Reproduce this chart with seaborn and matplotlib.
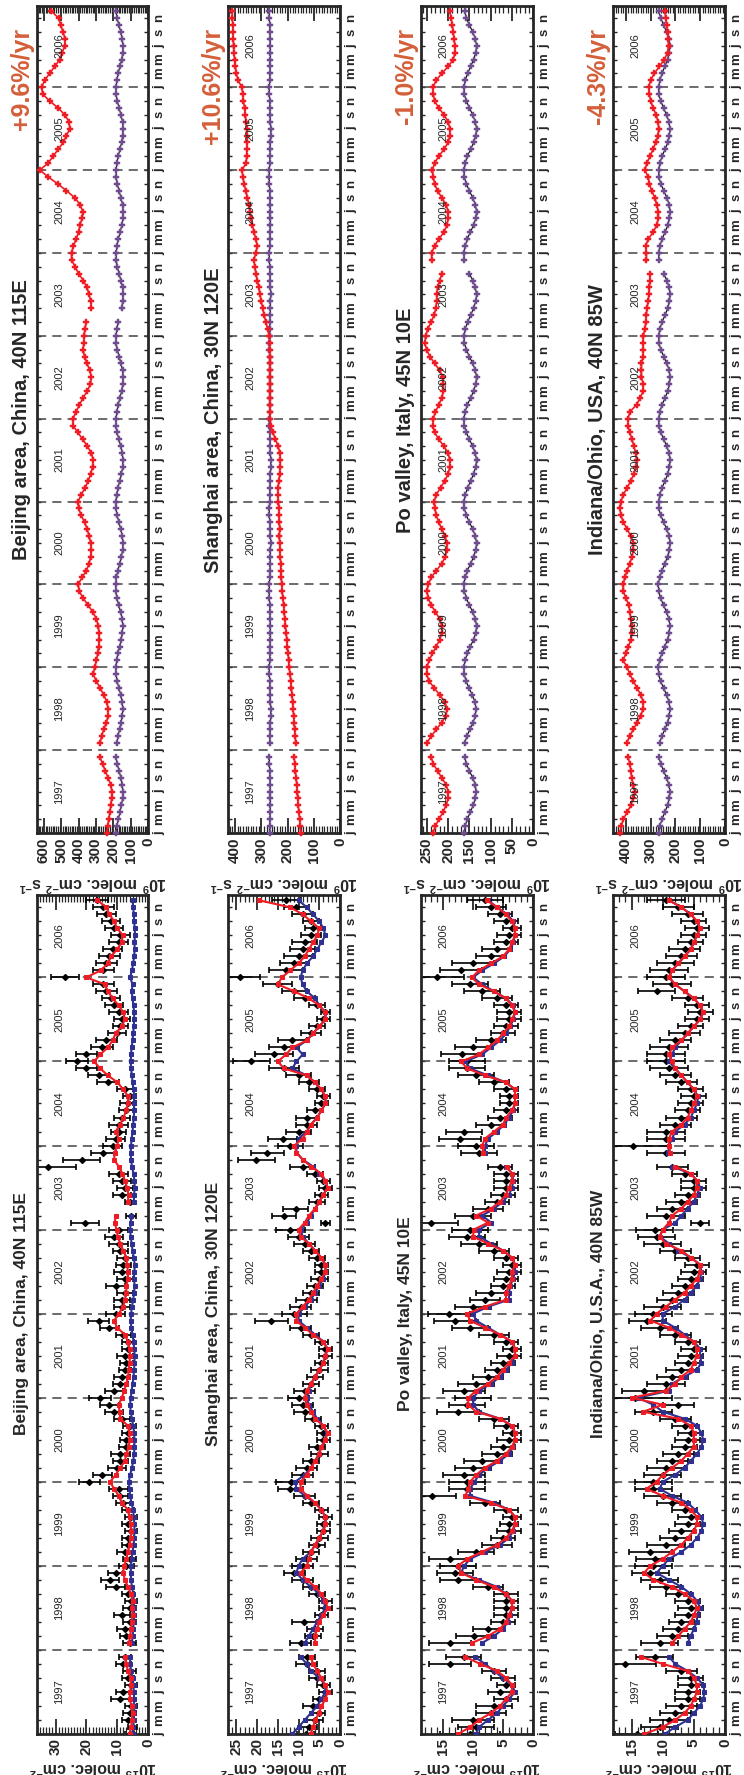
import numpy as np
import pandas as pd
import matplotlib
matplotlib.use('Agg')
import matplotlib.pyplot as plt
import matplotlib.transforms as mtransforms
from matplotlib.ticker import MultipleLocator, FuncFormatter
import seaborn as sns

nan = np.nan

months = pd.date_range('1997-01-01', periods=120, freq='MS')
t = np.asarray(months.year + (months.month - 1) / 12.0, dtype=float)

# ---------------- column densities (10^15 molec cm-2) ----------------
bj_obs = [6.0, 5.0, 6.5, 6.0, 5.5, 9.0, 8.0, 5.5, 6.5, 6.0, 8.0, 7.5,
          nan, 6.0, 7.0, 7.5, 6.0, 8.5, 6.0, 5.5, 6.5, 10.5, 12.3, 10.5,
          7.0, 6.0, 7.5, 6.5, 6.5, 5.5, 6.5, 5.5, 6.5, 8.0, 9.0, 9.5,
          19.0, 14.8, 10.0, 9.0, 9.0, 7.0, 7.0, 6.5, 6.0, 8.5, 11.0, 12.5,
          15.5, 11.0, 9.0, 8.5, 7.5, 7.0, 7.5, 6.5, 6.5, 8.0, 12.5, 16.0,
          10.5, 8.5, 8.5, 7.5, 10.5, 7.5, 8.5, 8.0, 7.5, 9.0, 9.5, 11.0,
          9.5, 20.5, 5.5, nan, 6.0, 8.5, 7.5, 8.5, 9.5, 32.5, 21.5, 14.5,
          11.5, 10.5, 9.5, 9.5, 8.5, 7.0, 6.5, 6.0, 7.5, 13.0, 16.0, 20.0,
          23.0, 20.0, 15.0, 13.5, 10.0, 9.0, 8.5, 9.5, 11.0, 12.0, 13.5, 14.5,
          27.0, 14.5, 13.5, 12.5, 11.5, 9.5, 9.0, 11.0, 12.0, 13.5, 14.5, 16.5]
bj_err = [1.5, 1.5, 2.0, 2.0, 2.0, 3.0, 2.5, 2.0, 2.0, 2.0, 2.5, 2.0,
          nan, 2.0, 2.0, 2.5, 2.0, 2.5, 2.0, 2.0, 2.0, 3.0, 3.0, 2.5,
          2.5, 2.0, 2.5, 2.0, 2.0, 2.0, 2.0, 2.0, 2.0, 2.5, 2.5, 3.0,
          3.5, 3.0, 3.0, 2.5, 3.0, 2.5, 2.0, 2.0, 2.0, 2.5, 3.0, 3.0,
          3.5, 3.0, 2.5, 2.5, 2.0, 2.0, 2.5, 2.0, 2.0, 2.5, 3.0, 3.5,
          3.0, 2.5, 2.5, 2.5, 3.0, 2.5, 2.5, 2.5, 2.5, 2.5, 3.0, 3.0,
          3.0, 4.5, 1.5, nan, 1.5, 3.0, 2.5, 3.0, 3.0, 9.0, 6.0, 4.0,
          3.0, 3.0, 2.5, 3.0, 2.5, 2.5, 2.5, 2.0, 2.5, 3.5, 3.5, 3.5,
          3.5, 3.5, 3.5, 3.5, 3.0, 2.5, 2.5, 3.0, 3.0, 3.0, 3.5, 3.5,
          4.5, 3.5, 3.5, 3.5, 3.0, 3.0, 3.0, 3.0, 3.0, 3.0, 3.5, 3.5]
bj_red = [6.0, 5.5, 5.2, 5.0, 5.3, 6.0, 5.8, 5.5, 5.6, 6.5, 7.0, 7.3,
          nan, 6.2, 5.8, 5.5, 5.3, 5.0, 5.2, 5.0, 5.5, 6.5, 7.5, 8.0,
          7.8, 7.0, 6.5, 6.0, 5.5, 5.5, 5.6, 6.0, 6.5, 8.5, 9.5, 11.0,
          12.3, 10.5, 9.0, 7.5, 7.0, 6.2, 6.0, 6.0, 6.5, 9.0, 9.2, 9.5,
          8.5, 7.7, 7.0, 6.5, 6.2, 6.0, 5.8, 6.0, 6.5, 7.5, 10.0, 11.0,
          9.5, 8.0, 7.5, 7.0, 7.0, 6.5, 6.5, 6.8, 7.0, 8.0, 9.0, 9.8,
          10.2, 10.8, 10.4, nan, 6.5, 6.3, 6.8, 7.5, 8.3, 9.5, 11.0, 10.8,
          10.0, 9.5, 10.5, 9.0, 8.0, 7.0, 6.5, 6.5, 8.0, 9.9, 13.0, 15.5,
          17.5, 15.5, 13.0, 11.5, 10.5, 8.5, 7.5, 8.0, 9.5, 11.5, 13.0, 14.0,
          20.0, 15.3, 13.0, 12.0, 10.0, 8.5, 8.2, 10.0, 11.0, 12.5, 13.5, 16.4]
bj_blue = [5.0, 4.8, 4.6, 4.5, 4.5, 4.5, 4.6, 4.7, 5.0, 5.5, 5.8, 5.8,
           nan, 5.2, 5.0, 4.8, 4.6, 4.5, 4.5, 4.6, 4.8, 5.2, 5.5, 5.6,
           5.5, 5.3, 5.0, 4.7, 4.5, 4.4, 4.4, 4.6, 4.8, 5.4, 5.8, 6.0,
           6.2, 5.8, 5.2, 4.8, 4.5, 4.4, 4.4, 4.5, 4.8, 5.2, 5.6, 5.8,
           5.6, 5.3, 5.0, 4.7, 4.5, 4.4, 4.3, 4.5, 4.7, 5.0, 5.4, 5.6,
           5.5, 5.2, 4.8, 4.5, 4.3, 4.6, 4.4, 4.3, 4.6, 5.0, 5.3, 5.6,
           5.8, 5.6, 5.4, nan, 4.6, 4.5, 4.3, 4.4, 4.7, 5.2, 5.5, 5.6,
           5.5, 5.3, 5.0, 4.8, 4.6, 4.5, 4.5, 4.5, 4.7, 5.0, 5.2, 5.5,
           5.6, 5.5, 5.3, 5.0, 4.8, 4.6, 4.5, 4.5, 4.7, 5.0, 5.3, 5.0,
           5.8, 5.2, 4.8, 4.5, 4.3, 4.4, 4.2, 4.3, 4.5, 4.6, 4.8, 5.0]

sh_obs = [8.3, 7.5, 6.0, 5.0, 6.5, 5.0, 3.5, 4.0, 5.5, 5.5, 8.0, 8.0,
          nan, 9.5, 6.5, 6.0, 8.6, 4.5, 3.5, 3.5, 5.5, 7.0, 9.0, 11.0,
          9.0, 8.0, 7.0, 5.5, 5.0, 4.0, 4.0, 3.5, 4.5, 7.0, 8.5, 12.0,
          11.9, 9.0, 8.0, 7.0, 5.0, 5.5, 4.0, 4.0, 4.5, 6.5, 8.5, 9.0,
          10.0, 8.5, 7.0, 6.0, 5.0, 4.5, 3.5, 3.5, 4.5, 7.0, 9.5, 16.6,
          11.0, 9.5, 8.0, 7.0, 6.0, 5.0, 4.5, 4.5, 5.5, 7.0, 8.5, 10.0,
          12.0, 3.5, 13.5, 10.7, 5.5, 4.5, 3.5, 4.0, 6.0, 9.0, 20.2, 17.5,
          12.0, 13.8, 10.0, 8.0, 8.0, 6.0, 4.5, 4.0, 5.5, 7.5, 10.0, 13.5,
          21.4, 15.9, 13.5, 11.5, 7.0, 5.5, 4.0, 3.5, 5.5, 8.5, 11.0, 15.0,
          24.2, 13.0, 11.0, 10.0, 9.0, 8.5, 7.0, 6.5, 7.0, 9.0, 10.5, 13.0]
sh_err = [2.0, 2.0, 2.0, 1.5, 2.5, 1.5, 1.5, 1.5, 2.0, 2.0, 2.5, 2.0,
          nan, 2.5, 2.0, 2.0, 3.0, 1.5, 1.5, 1.5, 2.0, 2.0, 2.5, 2.5,
          2.5, 2.5, 2.0, 2.0, 2.0, 1.5, 1.5, 1.5, 1.5, 2.0, 2.5, 3.0,
          3.5, 2.5, 2.5, 2.0, 2.0, 2.0, 1.5, 1.5, 1.5, 2.0, 2.5, 2.5,
          2.5, 2.5, 2.0, 2.0, 2.0, 1.5, 1.5, 1.5, 1.5, 2.0, 2.5, 4.0,
          3.0, 2.5, 2.5, 2.0, 2.0, 2.0, 1.5, 1.5, 2.0, 2.0, 2.5, 2.5,
          3.5, 1.0, 3.0, 3.0, 2.0, 1.5, 1.5, 1.5, 2.0, 3.0, 4.5, 4.0,
          3.0, 3.5, 3.0, 2.5, 2.5, 2.0, 1.5, 1.5, 2.0, 2.5, 3.0, 3.5,
          4.5, 4.5, 3.5, 3.5, 2.5, 2.0, 1.5, 1.0, 2.0, 2.5, 3.0, 3.5,
          5.0, 4.0, 3.5, 3.5, 3.0, 3.0, 2.5, 2.0, 2.0, 2.5, 3.0, 3.5]
sh_red = [7.1, 6.5, 6.0, 5.0, 4.5, 3.5, 3.0, 3.5, 4.5, 5.5, 6.5, 7.0,
          nan, 6.0, 6.0, 5.5, 5.0, 4.0, 3.0, 3.5, 4.5, 6.0, 8.0, 9.5,
          8.0, 7.5, 7.0, 6.0, 5.0, 4.0, 3.5, 3.5, 4.5, 6.0, 8.0, 9.5,
          9.5, 8.0, 7.0, 6.0, 5.0, 4.5, 3.5, 3.0, 4.0, 6.0, 7.0, 8.0,
          8.5, 8.0, 7.0, 6.0, 5.0, 4.0, 3.5, 3.0, 4.0, 6.5, 8.5, 10.5,
          10.5, 9.0, 7.5, 6.5, 5.5, 4.5, 3.5, 3.5, 4.5, 6.0, 7.5, 9.5,
          10.0, 8.5, 7.5, 6.0, 5.0, 4.0, 3.0, 3.5, 4.5, 7.0, 9.0, 10.5,
          11.0, 9.0, 8.0, 7.0, 5.5, 4.5, 3.5, 3.5, 4.5, 6.0, 8.0, 13.5,
          15.0, 13.0, 11.5, 8.0, 6.5, 5.0, 3.5, 3.5, 5.0, 7.5, 11.0, 15.0,
          14.0, 12.0, 10.0, 8.5, 7.5, 6.5, 5.5, 5.0, 7.0, 9.0, 12.0, 19.5]
sh_blue = [11.5, 10.0, 8.5, 7.0, 5.5, 4.5, 3.5, 3.5, 5.0, 7.0, 8.0, 9.5,
           nan, 8.5, 7.5, 6.5, 5.5, 4.5, 3.5, 4.0, 5.0, 7.0, 9.0, 10.5,
           10.0, 9.0, 7.0, 6.0, 5.0, 4.0, 3.5, 3.5, 4.5, 6.0, 8.5, 10.5,
           10.8, 8.5, 7.0, 6.0, 5.0, 4.5, 3.5, 3.2, 4.0, 5.5, 6.5, 7.5,
           8.0, 7.5, 7.0, 6.0, 5.0, 4.0, 3.5, 3.0, 4.0, 6.0, 8.0, 10.0,
           10.0, 8.5, 7.0, 6.0, 5.0, 4.0, 3.5, 3.5, 4.5, 6.0, 7.5, 9.0,
           9.5, 8.0, 7.0, 6.0, 5.0, 4.0, 3.0, 3.5, 5.0, 6.5, 9.0, 10.5,
           10.5, 10.0, 8.0, 7.0, 5.5, 4.5, 3.5, 3.5, 4.5, 6.0, 8.0, 11.5,
           10.5, 9.0, 10.5, 8.0, 6.5, 5.0, 3.5, 3.5, 5.0, 6.0, 8.0, 9.0,
           9.5, 9.0, 8.0, 6.5, 5.5, 4.5, 3.5, 4.0, 5.0, 6.5, 8.0, 10.0]

po_obs = [10.5, 9.5, 10.0, 7.0, 6.5, 4.5, 5.5, 4.5, 5.0, 6.5, 13.8, 11.6,
          nan, 13.8, 9.9, 7.5, 5.0, 4.5, 4.5, 4.5, 4.5, 7.5, 12.5, 13.0,
          12.5, 13.8, 9.5, 6.0, 5.0, 4.0, 4.0, 3.5, 4.5, 8.0, 16.9, 11.0,
          11.0, 11.5, 10.0, 8.5, 6.0, 5.0, 4.0, 3.5, 4.5, 6.5, 12.5, 11.0,
          10.0, 11.5, 9.5, 7.5, 6.0, 5.0, 4.0, 3.5, 4.5, 6.5, 10.5, 13.0,
          14.0, 10.0, 8.0, 7.0, 5.0, 4.5, 4.0, 3.5, 4.5, 6.5, 9.0, 11.0,
          10.5, 17.0, 10.0, 7.5, 6.0, 5.0, 4.5, 4.5, 4.5, 5.5, nan, 9.0,
          9.5, 12.2, 11.5, 7.0, 5.5, 4.5, 4.0, 4.0, 4.5, 6.5, 9.5, 11.0,
          11.0, 11.9, 10.0, 7.0, 5.0, 4.5, 4.0, 4.0, 4.5, 6.0, 8.5, 10.5,
          16.1, 12.0, 10.0, 7.0, 6.0, 4.5, 4.0, 3.5, 4.5, 5.5, 7.0, 8.0]
po_err = [5.0, 3.0, 3.5, 2.5, 3.0, 2.0, 2.0, 1.5, 2.0, 2.0, 3.5, 3.0,
          nan, 3.5, 3.0, 2.5, 2.0, 2.0, 2.0, 2.0, 2.0, 2.5, 3.0, 3.0,
          3.0, 3.5, 3.0, 2.5, 2.0, 2.0, 1.5, 1.5, 2.0, 2.5, 4.0, 3.0,
          3.0, 3.5, 3.0, 3.0, 2.5, 2.0, 2.0, 1.5, 2.0, 2.5, 3.5, 3.0,
          3.0, 3.5, 3.0, 2.5, 2.0, 2.0, 2.0, 1.5, 2.0, 2.5, 3.0, 3.5,
          3.5, 3.0, 2.5, 2.5, 2.0, 2.0, 2.0, 1.5, 2.0, 2.5, 3.0, 3.0,
          3.0, 4.5, 3.0, 2.5, 2.0, 2.0, 2.0, 2.0, 2.0, 2.0, nan, 3.0,
          3.0, 3.5, 3.0, 2.5, 2.0, 2.0, 1.5, 1.5, 2.0, 2.5, 3.0, 3.0,
          3.0, 3.5, 3.0, 2.5, 2.0, 2.0, 2.0, 2.0, 2.0, 2.5, 3.0, 3.0,
          4.5, 3.5, 3.5, 2.5, 2.5, 2.0, 2.0, 1.5, 2.0, 2.0, 2.5, 3.0]
po_red = [12.5, 10.5, 9.0, 7.0, 5.5, 4.5, 3.5, 3.5, 4.5, 6.0, 8.8, 11.3,
          nan, 10.2, 7.5, 5.5, 4.5, 4.0, 3.5, 3.5, 4.5, 6.5, 9.5, 12.0,
          12.5, 11.0, 8.5, 6.0, 4.5, 3.5, 3.0, 3.0, 4.0, 7.0, 11.3, 10.8,
          10.5, 9.5, 8.0, 6.0, 4.5, 3.5, 3.0, 3.0, 3.5, 5.5, 9.5, 10.8,
          10.8, 9.5, 7.5, 6.0, 5.0, 4.0, 3.0, 3.0, 3.5, 5.5, 8.0, 10.5,
          11.0, 8.0, 4.5, 4.5, 4.0, 3.5, 3.5, 3.0, 3.5, 5.0, 7.5, 10.0,
          9.9, 7.5, 9.5, 7.0, 5.5, 4.5, 4.0, 3.5, 3.5, 4.4, nan, 8.3,
          8.5, 8.0, 6.5, 5.0, 4.5, 3.5, 3.0, 3.0, 3.0, 4.5, 8.0, 11.0,
          12.0, 9.0, 7.5, 6.0, 5.0, 4.0, 3.5, 3.0, 3.5, 4.5, 6.5, 9.0,
          10.2, 9.0, 7.0, 5.0, 4.0, 3.5, 3.0, 3.0, 3.5, 4.5, 6.0, 7.7]
po_blue = [9.5, 9.0, 7.5, 6.0, 5.0, 4.0, 3.0, 3.5, 5.0, 6.5, 8.0, 9.7,
           nan, 8.5, 6.5, 5.0, 4.2, 3.8, 3.5, 3.5, 4.5, 6.0, 9.0, 12.0,
           11.5, 10.5, 8.0, 5.5, 4.0, 3.3, 3.0, 3.0, 4.0, 6.5, 10.5, 10.5,
           9.8, 9.0, 7.5, 5.5, 4.0, 3.3, 3.0, 3.0, 3.5, 5.5, 9.0, 10.0,
           10.0, 9.0, 7.0, 5.5, 4.5, 3.5, 3.0, 3.0, 3.5, 5.5, 7.5, 9.5,
           10.0, 7.5, 4.0, 4.0, 3.8, 3.3, 3.0, 3.0, 3.5, 5.0, 7.0, 9.0,
           9.0, 7.0, 8.5, 6.5, 5.0, 4.0, 3.5, 3.3, 3.5, 4.5, nan, 8.0,
           8.0, 7.5, 6.0, 4.8, 4.0, 3.3, 3.0, 3.0, 3.0, 4.5, 7.5, 10.5,
           11.3, 8.5, 7.0, 5.5, 4.5, 3.8, 3.3, 3.0, 3.3, 4.5, 6.5, 8.5,
           10.0, 8.5, 6.5, 4.8, 3.8, 3.3, 3.0, 3.0, 3.3, 4.3, 6.0, 7.5]

in_obs = [14.2, 10.5, 9.0, 8.0, 7.0, 6.0, 6.0, 5.5, 5.5, 7.0, 16.1, 11.3,
          nan, 10.5, 8.5, 7.5, 7.0, 6.0, 5.5, 6.0, 7.5, 9.5, 10.5, 12.0,
          11.5, 11.3, 12.0, 9.5, 8.0, 7.0, 6.0, 5.5, 6.5, 8.5, 10.0, 11.5,
          11.5, 10.0, 9.5, 8.5, 7.5, 6.5, 6.0, 5.5, 6.5, 8.0, 11.5, 7.5,
          14.5, 13.0, 9.5, 8.5, 7.0, 6.0, 5.5, 5.0, 6.0, 8.0, 10.5, 12.5,
          11.5, 10.0, 8.5, 7.5, 6.5, 5.5, 5.0, 4.5, 6.0, 8.0, 10.0, 11.0,
          11.3, 4.0, 9.5, 8.5, 7.0, 6.0, 5.0, 5.0, 6.5, 8.5, nan, 9.5,
          14.8, 9.5, 9.5, 8.0, 7.0, 6.0, 5.5, 5.0, 5.5, 7.0, 8.0, 9.0,
          9.5, 9.5, 9.0, 8.0, 6.5, 5.5, 4.5, 4.0, 4.5, 6.0, 11.0, 8.5,
          9.5, 9.0, 8.0, 7.0, 6.5, 5.5, 5.0, 4.5, 5.0, 6.0, 7.5, 9.5]
in_err = [3.5, 3.0, 3.0, 2.5, 2.5, 2.0, 2.0, 2.0, 2.0, 2.5, 5.0, 3.0,
          nan, 3.0, 2.5, 2.5, 2.0, 2.0, 2.0, 2.0, 2.0, 2.5, 3.0, 3.0,
          3.0, 3.0, 3.5, 3.0, 2.5, 2.0, 2.0, 2.0, 2.0, 2.5, 3.0, 3.0,
          3.0, 3.0, 3.0, 2.5, 2.5, 2.0, 2.0, 2.0, 2.0, 2.5, 3.0, 2.5,
          6.0, 3.5, 3.0, 2.5, 2.5, 2.0, 2.0, 2.0, 2.0, 2.5, 3.0, 3.0,
          3.0, 3.0, 2.5, 2.5, 2.0, 2.0, 2.0, 2.0, 2.0, 2.5, 3.0, 3.0,
          3.0, 1.5, 3.0, 2.5, 2.5, 2.0, 2.0, 2.0, 2.0, 2.5, nan, 3.0,
          6.0, 3.0, 3.0, 2.5, 2.5, 2.0, 2.0, 2.0, 2.0, 2.5, 2.5, 3.0,
          3.0, 3.0, 3.0, 2.5, 2.5, 2.0, 2.0, 2.0, 2.0, 2.5, 3.0, 3.0,
          3.0, 3.0, 3.0, 2.5, 2.5, 2.0, 2.0, 2.0, 2.0, 2.5, 2.5, 3.0]
in_red = [13.0, 10.0, 8.0, 6.5, 5.5, 5.0, 4.5, 4.5, 5.0, 6.0, 10.0, 13.5,
          nan, 8.5, 7.5, 6.5, 5.5, 5.0, 4.5, 5.0, 6.5, 8.5, 11.5, 13.0,
          12.0, 10.0, 8.5, 7.0, 6.0, 5.0, 4.5, 4.5, 5.5, 7.0, 10.0, 12.6,
          11.0, 10.0, 8.5, 7.0, 6.0, 5.0, 5.0, 5.0, 5.5, 7.5, 13.2, 10.0,
          15.0, 9.5, 8.0, 7.0, 5.5, 5.0, 4.5, 4.5, 5.0, 7.0, 9.0, 12.0,
          11.0, 9.5, 8.0, 6.5, 5.5, 4.5, 4.0, 4.0, 5.5, 7.0, 9.5, 10.5,
          10.0, 9.0, 8.5, 7.0, 6.0, 5.0, 4.5, 4.5, 5.5, 8.0, nan, 8.8,
          9.0, 9.0, 8.5, 7.0, 6.0, 5.5, 5.0, 4.5, 5.0, 6.0, 7.0, 8.0,
          8.5, 9.0, 8.5, 7.0, 6.0, 5.0, 4.0, 3.5, 4.0, 5.0, 6.5, 8.0,
          9.0, 8.5, 7.5, 6.5, 5.5, 5.0, 4.5, 4.0, 4.5, 5.5, 7.0, 9.0]
in_blue = [9.7, 8.0, 6.0, 5.0, 4.0, 3.5, 3.3, 3.5, 4.5, 6.0, 8.0, 9.0,
           nan, 6.0, 5.5, 5.0, 4.5, 4.5, 4.0, 4.5, 5.5, 7.0, 9.0, 11.0,
           10.0, 9.0, 7.0, 5.5, 4.5, 3.8, 3.5, 3.8, 4.8, 6.0, 8.5, 10.5,
           10.0, 8.0, 6.5, 5.5, 4.5, 3.8, 3.5, 3.8, 4.5, 6.5, 10.0, 11.5,
           14.0, 9.0, 8.5, 6.5, 4.5, 3.8, 4.0, 4.0, 5.0, 6.5, 8.0, 10.0,
           10.0, 8.0, 6.5, 5.5, 4.5, 4.0, 3.8, 4.0, 5.5, 7.5, 9.0, 10.5,
           10.0, 8.0, 7.0, 6.0, 5.0, 4.5, 4.0, 4.5, 5.5, 8.5, nan, 9.1,
           9.0, 8.5, 8.0, 6.5, 5.5, 5.0, 4.5, 4.3, 5.0, 6.0, 7.0, 8.0,
           9.0, 8.5, 8.0, 7.0, 6.0, 5.0, 4.0, 3.5, 4.0, 5.0, 6.5, 8.0,
           9.0, 8.5, 7.5, 6.5, 5.5, 5.0, 4.5, 4.0, 4.5, 5.5, 7.0, 9.0]

# ---------------- emissions (10^9 molec cm-2 s-1) ----------------
bj_emis = [235, 232, 226, 220, 214, 210, 208, 215, 230, 246, 262, 277,
           nan, 277, 268, 255, 240, 230, 230, 238, 255, 276, 298, 316,
           307, 297, 290, 285, 280, 282, 287, 297, 318, 345, 375, 395,
           403, 380, 355, 340, 330, 326, 330, 340, 350, 366, 385, 400,
           403, 385, 362, 345, 330, 320, 316, 326, 350, 376, 405, 432,
           432, 415, 395, 375, 350, 332, 326, 335, 352, 366, 374, 370,
           368, 364, 355, nan, 326, 330, 340, 352, 372, 400, 420, 441,
           441, 430, 415, 400, 393, 380, 376, 392, 422, 470, 520, 575,
           624, 576, 547, 518, 489, 470, 451, 455, 480, 518, 567, 607,
           614, 596, 567, 538, 509, 495, 480, 478, 490, 503, 515, 557]
bj_apriori = [182, 179, 171, 162, 153, 147, 145, 148, 156, 167, 177, 184,
              nan, 180, 173, 164, 155, 148, 146, 149, 157, 168, 178, 185,
              185, 181, 174, 164, 154, 148, 145, 149, 158, 169, 179, 186,
              186, 182, 174, 163, 153, 147, 144, 148, 157, 168, 178, 185,
              185, 181, 173, 163, 153, 146, 144, 148, 157, 168, 178, 185,
              184, 180, 172, 162, 152, 146, 143, 147, 156, 167, 177, 184,
              184, 180, 172, nan, 152, 146, 143, 147, 156, 167, 177, 183,
              183, 179, 171, 161, 151, 145, 143, 147, 156, 167, 177, 183,
              183, 180, 172, 162, 152, 146, 144, 147, 156, 167, 177, 184,
              184, 180, 172, 162, 152, 146, 144, 148, 157, 168, 178, 185]

sh_emis = [150, 152, 154, 157, 159, 161, 163, 165, 167, 170, 172, 175,
           nan, 169, 171, 173, 175, 177, 179, 181, 183, 185, 188, 190,
           194, 196, 198, 201, 203, 205, 208, 210, 213, 215, 218, 220,
           222, 224, 225, 226, 228, 229, 230, 231, 230, 231, 232, 233,
           235, 237, 236, 233, 230, 228, 227, 229, 236, 246, 256, 264,
           266, 267, 268, 268, 268, 268, 268, 268, 268, 268, 268, 268,
           270, 276, 283, 289, 295, 300, 305, 310, 315, 320, 325, 328,
           321, 315, 321, 328, 334, 340, 344, 347, 353, 359, 366, 370,
           374, 358, 356, 355, 354, 354, 356, 358, 361, 364, 368, 371,
           374, 389, 395, 399, 402, 405, 406, 407, 408, 409, 410, 411]
sh_apriori = [268, 268, 267, 266, 265, 265, 265, 266, 267, 268, 269, 269,
              nan, 268, 267, 266, 265, 264, 264, 265, 266, 267, 268, 269,
              269, 268, 267, 266, 265, 265, 265, 266, 267, 268, 269, 269,
              269, 268, 267, 266, 265, 265, 264, 265, 266, 268, 269, 269,
              268, 268, 267, 266, 265, 264, 264, 265, 266, 267, 268, 269,
              269, 268, 267, 266, 265, 265, 265, 266, 267, 268, 269, 269,
              268, 268, 267, 266, 265, 265, 264, 265, 266, 267, 268, 269,
              269, 268, 267, 266, 265, 265, 265, 266, 267, 268, 269, 269,
              269, 268, 267, 266, 265, 264, 264, 265, 266, 267, 268, 269,
              269, 268, 267, 266, 265, 265, 265, 266, 267, 268, 269, 269]

po_emis = [236, 230, 222, 212, 205, 200, 200, 205, 215, 225, 235, 240,
           nan, 251, 240, 228, 215, 205, 203, 208, 220, 233, 245, 251,
           250, 245, 237, 228, 220, 215, 215, 220, 230, 240, 247, 250,
           247, 240, 228, 215, 207, 203, 203, 207, 215, 222, 228, 231,
           233, 228, 218, 208, 200, 196, 196, 200, 210, 222, 232, 236,
           235, 230, 222, 215, 211, 211, 213, 220, 232, 243, 251, 255,
           253, 248, 240, 233, 229, 227, 227, 225, 220, 215, nan, 239,
           239, 232, 222, 210, 203, 200, 200, 205, 215, 225, 232, 235,
           237, 232, 222, 210, 200, 196, 196, 200, 210, 222, 232, 235,
           236, 228, 215, 200, 188, 184, 184, 186, 188, 190, 193, 196]
po_apriori = [162, 160, 155, 148, 141, 136, 134, 136, 142, 150, 157, 161,
              nan, 161, 156, 149, 141, 136, 134, 137, 143, 151, 158, 162,
              163, 160, 155, 148, 140, 135, 133, 136, 142, 150, 157, 162,
              163, 160, 155, 147, 140, 135, 133, 136, 142, 150, 157, 162,
              162, 160, 154, 147, 140, 135, 133, 136, 142, 150, 157, 162,
              163, 160, 155, 147, 140, 135, 133, 136, 142, 150, 157, 162,
              162, 160, 154, 147, 140, 135, 133, 136, 142, 150, nan, 162,
              163, 160, 155, 148, 140, 135, 133, 136, 142, 150, 157, 162,
              162, 160, 155, 147, 140, 135, 133, 136, 142, 150, 157, 162,
              162, 160, 154, 147, 140, 135, 133, 136, 142, 150, 157, 161]

in_emis = [424, 418, 411, 395, 380, 372, 364, 370, 377, 380, 384, 391,
           nan, 397, 385, 370, 355, 340, 330, 330, 340, 355, 370, 384,
           395, 411, 400, 390, 380, 377, 377, 380, 384, 388, 400, 410,
           410, 405, 395, 385, 375, 370, 370, 380, 395, 410, 420, 424,
           420, 410, 395, 380, 368, 360, 357, 360, 368, 375, 385, 391,
           391, 384, 357, 343, 330, 330, 337, 337, 337, 330, 330, 330,
           330, 323, 320, 317, 315, 310, 307, 305, 303, 303, nan, 317,
           317, 320, 310, 290, 276, 269, 269, 276, 283, 296, 305, 310,
           323, 315, 303, 290, 280, 270, 268, 270, 278, 290, 300, 305,
           308, 300, 285, 265, 245, 232, 228, 229, 232, 236, 240, 242]
in_apriori = [268, 263, 254, 243, 232, 225, 222, 226, 236, 248, 259, 267,
              nan, 264, 255, 243, 232, 225, 222, 226, 236, 248, 260, 268,
              269, 264, 255, 243, 232, 225, 222, 226, 236, 248, 260, 268,
              269, 264, 254, 243, 232, 224, 221, 225, 235, 248, 259, 268,
              268, 263, 254, 242, 231, 224, 221, 225, 235, 247, 259, 267,
              268, 263, 254, 242, 231, 224, 221, 225, 235, 247, 259, 267,
              268, 263, 254, 242, 231, 224, 221, 225, 235, 247, nan, 267,
              268, 263, 254, 242, 231, 224, 221, 225, 235, 247, 259, 267,
              268, 263, 254, 242, 231, 224, 222, 226, 236, 248, 259, 268,
              268, 263, 254, 243, 232, 225, 222, 226, 236, 248, 259, 268]

titles = ['Beijing area, China, 40N 115E', 'Shanghai area, China, 30N 120E',
          'Po valley, Italy, 45N 10E', 'Indiana/Ohio, U.S.A., 40N 85W']
emis_titles = ['Beijing area, China, 40N 115E', 'Shanghai area, China, 30N 120E',
               'Po valley, Italy, 45N 10E', 'Indiana/Ohio, USA, 40N 85W']
trends = ['+9.6%/yr', '+10.6%/yr', '-1.0%/yr', '-4.3%/yr']
month_letters = ['j', 'm', 'm', 'j', 's', 'n']
years = list(range(1997, 2007))

col_sets = [(bj_obs, bj_err, bj_red, bj_blue), (sh_obs, sh_err, sh_red, sh_blue),
            (po_obs, po_err, po_red, po_blue), (in_obs, in_err, in_red, in_blue)]
emis_sets = [(bj_emis, bj_apriori), (sh_emis, sh_apriori),
             (po_emis, po_apriori), (in_emis, in_apriori)]

# axis ranges / ticks  (max, major, minor)
col_axis = [(36, 10, 1), (27, 5, 1), (18.7, 5, 1), (18, 5, 1)]
emis_axis = [(640, 100, 10), (427, 100, 10), (264, 50, 10), (452, 100, 10)]

# ---------------- style ----------------
sns.set_style('ticks')
plt.rcParams['font.family'] = ['Liberation Sans', 'DejaVu Sans']
plt.rcParams['mathtext.fontset'] = 'custom'
plt.rcParams['mathtext.rm'] = 'Liberation Sans:bold'
plt.rcParams['mathtext.bf'] = 'Liberation Sans:bold'
plt.rcParams['mathtext.default'] = 'bf'
plt.rcParams['axes.linewidth'] = 2.0
NARROW = ['Liberation Sans Narrow', 'Liberation Sans', 'DejaVu Sans']

RED = '#ee1c24'
BLUE = '#2e3192'
PURPLE = '#6e4c8e'
TREND = '#d45f3a'

W, H = 744, 1775
panel_x = [(37, 148), (228, 340), (421, 533), (613, 725)]
emis_y = (6, 833)
col_y = (895, 1734)

fig = plt.figure(figsize=(W / 100, H / 100), dpi=100)


def add_ax(xr, yr):
    return fig.add_axes([xr[0] / W, 1 - yr[1] / H, (xr[1] - xr[0]) / W, (yr[1] - yr[0]) / H])


def seg_line(ax, vals, **kw):
    df = pd.DataFrame({'t': t, 'v': vals})
    df['seg'] = df['v'].isna().cumsum()
    df = df.dropna()
    sns.lineplot(data=df, x='v', y='t', units='seg', estimator=None, sort=False,
                 orient='y', ax=ax, legend=False, **kw)


def frame(ax, vmax, major, minor, tlo, narrow=False):
    ax.set_xlim(vmax, 0)
    ax.set_ylim(tlo, 2006.98)
    ax.xaxis.set_major_locator(MultipleLocator(major))
    ax.xaxis.set_minor_locator(MultipleLocator(minor))
    ax.xaxis.set_major_formatter(FuncFormatter(lambda v, p: f'{v:g}'))
    ax.tick_params(axis='x', which='both', direction='in', top=True, bottom=True,
                   labelrotation=90, labelsize=11, pad=3)
    ax.tick_params(axis='x', which='major', length=11, width=1.3)
    ax.tick_params(axis='x', which='minor', length=5, width=0.9)
    mt = [y + k / 6 for y in years for k in range(6)]
    ax.set_yticks(mt)
    ax.set_yticklabels(month_letters * len(years))
    ax.tick_params(axis='y', which='both', direction='in', left=True, right=True,
                   labelleft=False, labelright=True, labelrotation=90,
                   length=3, width=1, labelsize=9.5, pad=4)
    for lab in ax.get_xticklabels() + ax.get_yticklabels():
        lab.set_fontweight('bold')
    for lab in ax.get_yticklabels():
        lab.set_verticalalignment('center')
    ax.set_ylabel('')
    for yr in years[1:]:
        ax.axhline(yr, color='#444444', lw=1.1, ls=(0, (6, 4)), zorder=1)
    tr = mtransforms.blended_transform_factory(ax.transAxes, ax.transData)
    for yr in years:
        ax.text(0.2, yr + 0.5, str(yr), transform=tr, rotation=90, ha='center',
                va='center', fontsize=8, family=NARROW if narrow else None, zorder=6)


for i in range(4):
    xr = panel_x[i]
    xc = (xr[0] - 15) / W

    # ---- emission panel (top) ----
    ax = add_ax(xr, emis_y)
    emis, apri = emis_sets[i]
    seg_line(ax, apri, color='black', lw=0.8, marker='P', markersize=4.5,
             markerfacecolor=PURPLE, markeredgecolor=PURPLE, markeredgewidth=0.3,
             clip_on=False, zorder=3)
    seg_line(ax, emis, color=RED, lw=1.2, marker='P', markersize=4.5,
             markerfacecolor=RED, markeredgecolor=RED, markeredgewidth=0.3,
             clip_on=False, zorder=4)
    vmax, ma, mi = emis_axis[i]
    frame(ax, vmax, ma, mi, 1997.05, narrow=True)
    ax.set_xlabel(r'10$^{9}$ molec. cm$^{-2}$ s$^{-1}$', rotation=180,
                  fontsize=11.5, fontweight='bold')
    ax.xaxis.set_label_coords(0.5, -0.05)
    fig.text(xc, 1 - 420 / H, emis_titles[i], rotation=90, ha='center', va='center',
             fontsize=14.5, fontweight='bold', family=NARROW)
    fig.text(xc, 1 - 28 / H, trends[i], rotation=90, ha='center', va='top',
             fontsize=18, fontweight='bold', color=TREND, family=NARROW)

    # ---- column density panel (bottom) ----
    ax = add_ax(xr, col_y)
    obs, err, red, blue = col_sets[i]
    ax.errorbar(obs, t, xerr=err, fmt='D', color='black', ms=3, capsize=2,
                elinewidth=1.2, capthick=1.2, zorder=2)
    seg_line(ax, blue, color=BLUE, lw=1.5, marker='s', markersize=3,
             markeredgecolor=BLUE, zorder=3)
    seg_line(ax, red, color=RED, lw=1.5, marker='s', markersize=3,
             markeredgecolor=RED, zorder=4)
    vmax, ma, mi = col_axis[i]
    frame(ax, vmax, ma, mi, 1997.0)
    ax.set_xlabel(r'10$^{15}$ molec. cm$^{-2}$', rotation=180,
                  fontsize=11.5, fontweight='bold')
    ax.xaxis.set_label_coords(0.5, -0.03)
    fig.text(xc, 1 - 1314 / H, titles[i], rotation=90, ha='center', va='center',
             fontsize=12.5, fontweight='bold')

fig.savefig('out.png', dpi=100)
